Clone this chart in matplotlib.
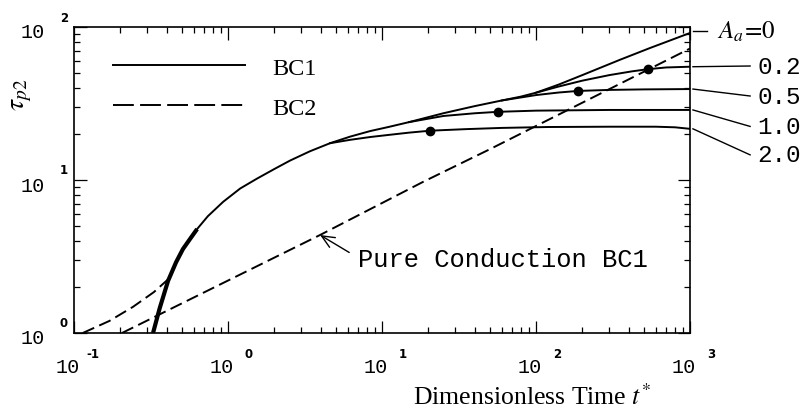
import matplotlib
matplotlib.use("Agg")
import matplotlib.pyplot as plt
from matplotlib.lines import Line2D
from matplotlib.ticker import FixedLocator, LogLocator, NullFormatter, FixedFormatter
from matplotlib.transforms import ScaledTranslation

plt.rcParams["mathtext.fontset"] = "stix"
plt.rcParams["lines.scale_dashes"] = False

# Common BC1 response (A_a = 0), dimensionless time vs. peak temperature
t_main = [0.326, 0.36, 0.408, 0.46, 0.51, 0.57, 0.63, 0.74, 0.93, 1.2, 1.54, 2.0,
          2.53, 3.4, 4.6, 6.2, 8.4, 11, 15, 25, 40, 60, 80, 100, 140, 200, 350,
          550, 1000]
T_main = [1.0, 1.45, 2.19, 2.9, 3.54, 4.15, 4.78, 5.8, 7.2, 8.8, 10.2, 11.8,
          13.4, 15.4, 17.4, 19.2, 20.9, 22.2, 23.9, 27.3, 30.4, 33.1, 35.1, 37.2,
          42.0, 48.5, 61.0, 72.9, 91.4]

# Branches leaving the common curve for A_a > 0
t_a02 = [100, 140, 200, 300, 420, 533, 700, 1000]
T_a02 = [37.2, 40.8, 44.6, 48.5, 51.3, 53.0, 54.4, 55.0]
t_a05 = [60, 100, 140, 187, 300, 500, 1000]
T_a05 = [33.1, 35.9, 37.3, 38.2, 38.8, 39.1, 39.3]
t_a10 = [15, 25, 40, 56.6, 100, 300, 1000]
T_a10 = [23.9, 26.2, 27.3, 27.9, 28.4, 28.7, 28.7]
t_a20 = [4.6, 6.2, 8.4, 11, 15, 20.5, 35, 60, 120, 300, 600, 800, 1000]
T_a20 = [17.4, 18.3, 19.1, 19.7, 20.4, 21.0, 21.5, 21.9, 22.2, 22.3, 22.3, 22.1, 21.6]

# Marked points on each branch
t_dots = [533, 187, 56.6, 20.5]
T_dots = [53.0, 38.2, 27.9, 21.0]

# BC2 early-time curve
t_bc2 = [0.114, 0.17, 0.241, 0.33, 0.42]
T_bc2 = [1.0, 1.2, 1.48, 1.85, 2.3]

# Pure conduction, BC1
t_pc = [0.205, 3.96, 18.4, 50.2, 1000]
T_pc = [1.0, 4.37, 9.7, 15.9, 72.3]

branch_labels = ["0.2", "0.5", "1.0", "2.0"]
label_T = [55.6, 35.4, 22.4, 14.6]

x_ticks = [1e-1, 1e0, 1e1, 1e2, 1e3]
x_exps = ["-1", "0", "1", "2", "3"]
y_ticks = [1e0, 1e1, 1e2]
y_exps = ["0", "1", "2"]

fig = plt.figure(figsize=(8.03, 4.10), dpi=100)
W, H = 803, 410
ax = fig.add_axes([74 / W, (H - 334) / H, 616 / W, 306 / H])
ax.set_xscale("log")
ax.set_yscale("log")
ax.set_xlim(1e-1, 1e3)
ax.set_ylim(1e0, 1e2)

lw = 1.4
dash = (0, (9.0, 4.0))

# Curves
ax.plot(t_main[:7], T_main[:7], color="black", lw=3.0, solid_capstyle="butt")
ax.plot(t_main[6:], T_main[6:], color="black", lw=lw)
for tb, Tb in [(t_a02, T_a02), (t_a05, T_a05), (t_a10, T_a10), (t_a20, T_a20)]:
    ax.plot(tb, Tb, color="black", lw=lw)
ax.plot(t_dots, T_dots, "o", color="black", ms=6)
ax.plot(t_bc2, T_bc2, color="black", lw=lw, linestyle=dash)
ax.plot(t_pc, T_pc, color="black", lw=lw, linestyle=dash)

# Legend
h1 = Line2D([], [], color="black", lw=lw)
h2 = Line2D([], [], color="black", lw=lw, linestyle=(0, (15.0, 4.5)))
ax.legend([h1, h2], ["BC1", "BC2"], loc="upper left", bbox_to_anchor=(0.064, 0.902),
          frameon=False, prop={"family": "Liberation Serif", "size": 17.5},
          handlelength=5.4, handletextpad=1.15, labelspacing=0.72, borderpad=0,
          borderaxespad=0)

# Annotation for the conduction line
mono = {"family": "Liberation Mono", "size": 17.5}
ax.annotate("Pure Conduction BC1", xy=(3.96, 4.37), xytext=(6.98, 3.05),
            ha="left", va="center", family="Liberation Mono", size=18.4,
            arrowprops=dict(arrowstyle="->,head_length=0.5,head_width=0.22",
                            color="black", lw=1.0, relpos=(0, 0.55),
                            shrinkA=5, shrinkB=0))

# Right-hand labels with leader lines
ends_T = [T_a02[-1], T_a05[-1], T_a10[-1], T_a20[-1]]
for lab, Te, Tl in zip(branch_labels, ends_T, label_T):
    ax.plot([1045, 2456], [Te, Tl], color="black", lw=1.0, clip_on=False)
    ax.text(2724, Tl, lab, ha="left", va="center", clip_on=False, **mono)
ax.plot([1045, 1288], [94, 94], color="black", lw=1.0, clip_on=False)
ax.text(1496, 94, r"$A_a\!=\!0$", ha="left", va="center", fontsize=18, clip_on=False)

# Axes styling
for s in ax.spines.values():
    s.set_linewidth(1.2)
ax.tick_params(which="both", direction="in", top=True, right=True, width=0.9)
ax.tick_params(which="major", length=9)
ax.tick_params(which="minor", length=4)
ax.xaxis.set_major_locator(FixedLocator(x_ticks))
ax.yaxis.set_major_locator(FixedLocator(y_ticks))
ax.xaxis.set_minor_locator(LogLocator(base=10, subs=range(2, 10), numticks=20))
ax.yaxis.set_minor_locator(LogLocator(base=10, subs=range(2, 10), numticks=20))
ax.xaxis.set_minor_formatter(NullFormatter())
ax.yaxis.set_minor_formatter(NullFormatter())
ax.xaxis.set_major_formatter(FixedFormatter(["10"] * len(x_ticks)))
ax.yaxis.set_major_formatter(FixedFormatter(["10"] * len(y_ticks)))
ax.tick_params(axis="x", which="major", pad=17, labelsize=14.5)
ax.tick_params(axis="y", which="major", pad=21, labelsize=14.5)
for lab in ax.get_xticklabels():
    lab.set_family("Liberation Mono")
    lab.set_transform(lab.get_transform() + ScaledTranslation(-6 / 100, 0, fig.dpi_scale_trans))
for lab in ax.get_yticklabels():
    lab.set_family("Liberation Mono")
    lab.set_transform(lab.get_transform() + ScaledTranslation(0, -3 / 100, fig.dpi_scale_trans))

# Exponents of the decade labels
sup = {"family": "DejaVu Sans", "weight": "bold", "size": 8.5}
for loc, e in zip(x_ticks, x_exps):
    ax.annotate(e, xy=(loc, 0), xycoords=ax.get_xaxis_transform(),
                xytext=(25 * 0.72, -21 * 0.72), textcoords="offset points",
                ha="right", va="center", annotation_clip=False, **sup)
for loc, e in zip(y_ticks, y_exps):
    ax.annotate(e, xy=(0, loc), xycoords=ax.get_yaxis_transform(),
                xytext=(-6 * 0.72, 10 * 0.72), textcoords="offset points",
                ha="right", va="center", annotation_clip=False, **sup)

# Axis titles
ax.set_ylabel(r"$\tau_{p2}$", fontsize=20)
ax.yaxis.set_label_coords((34 - 74) / 616, (334 - 95) / 306)
ax.set_xlabel(r"Dimensionless Time $t^{*}$", family="Liberation Serif", fontsize=18.5)
ax.xaxis.label.set_va("baseline")
ax.xaxis.set_label_coords((532 - 74) / 616, (334 - 405) / 306)

fig.savefig("out.png", dpi=100)
